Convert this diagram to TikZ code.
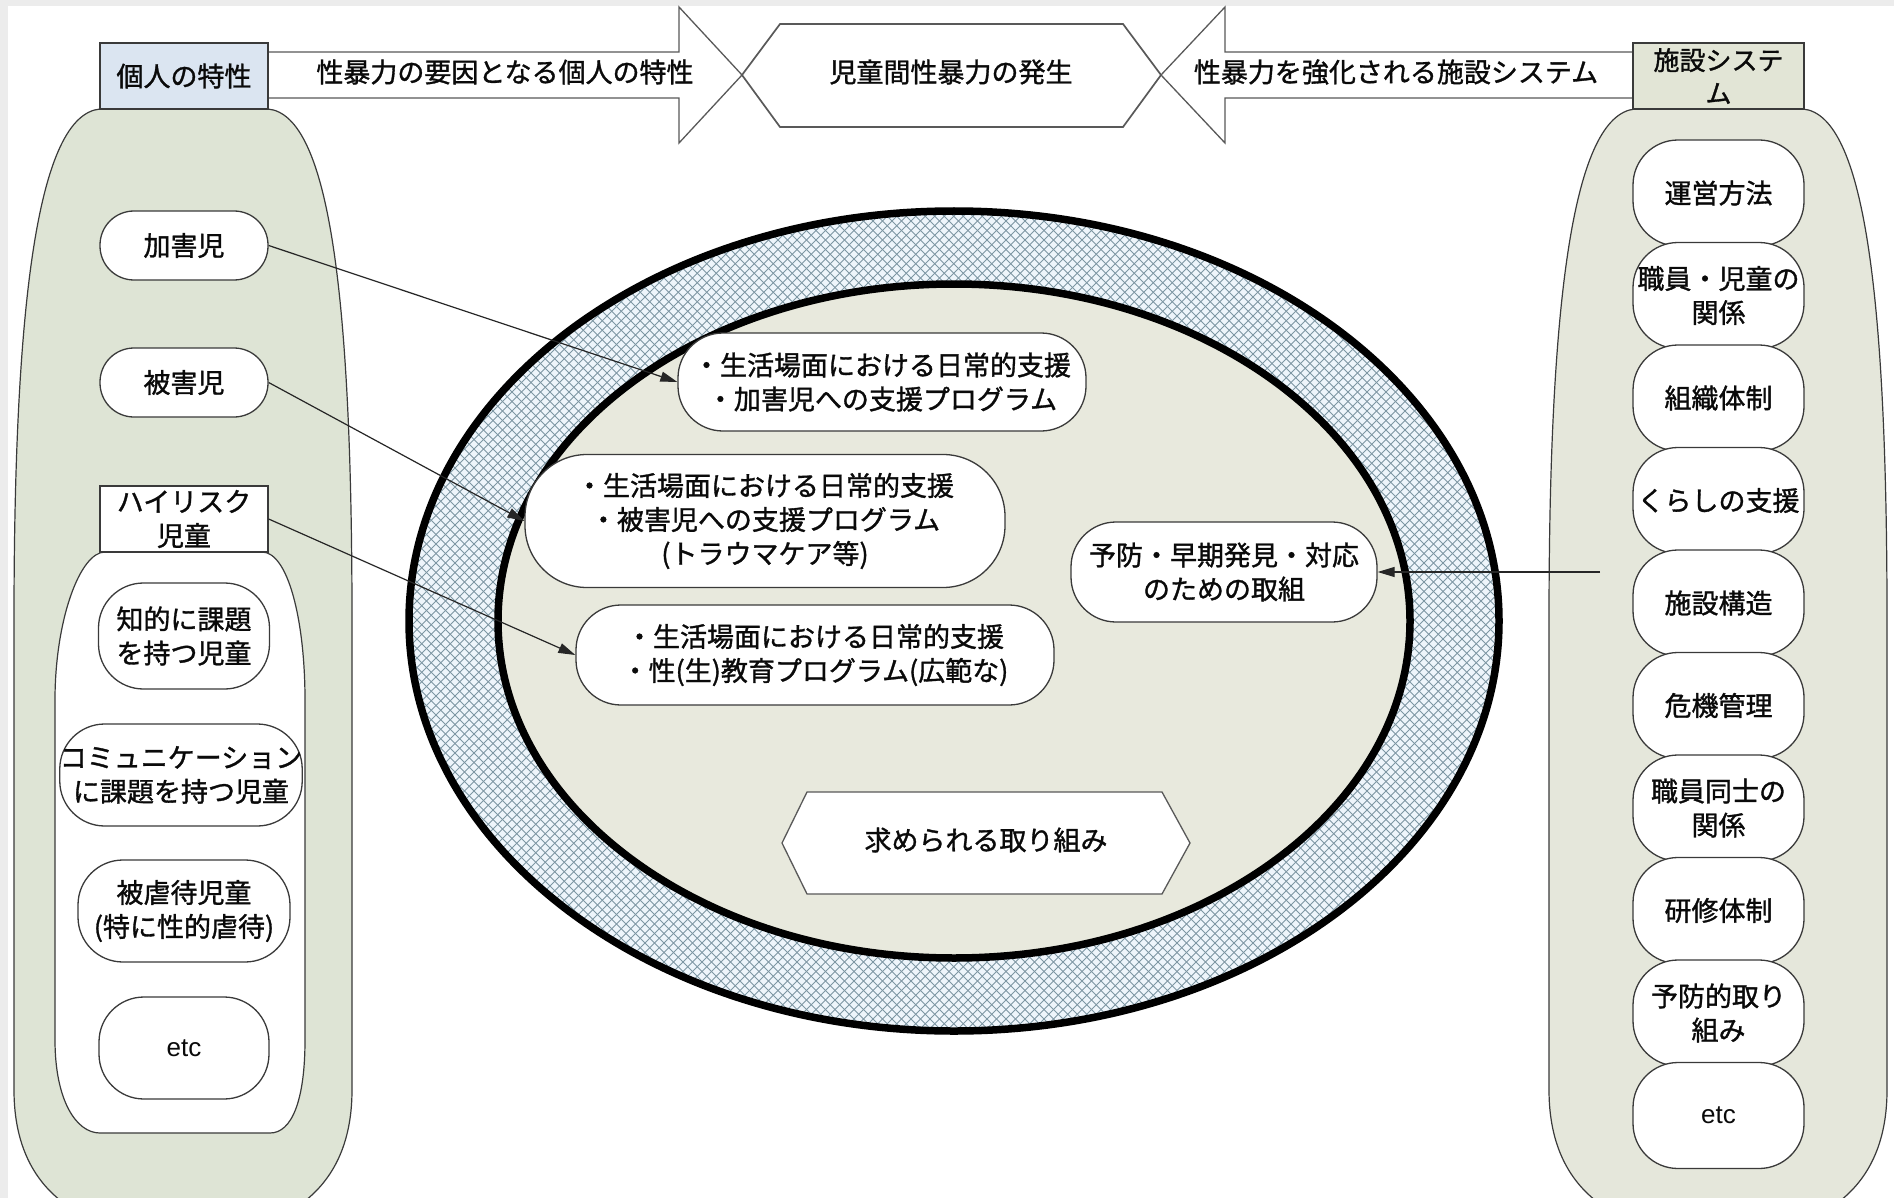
\documentclass[tikz,border=0pt]{standalone}
\usepackage{fontspec}
\setmainfont{Noto Sans CJK JP}[FakeBold=1.2]
\newfontfamily\latfont{Liberation Sans}
\usetikzlibrary{arrows.meta}
\definecolor{bggray}{HTML}{ECECEC}
\definecolor{bordercol}{HTML}{3A3A3A}
\definecolor{textcol}{HTML}{0A0A0A}
\definecolor{kojinfill}{HTML}{DBE5F1}
\definecolor{greenL}{HTML}{DEE4D5}
\definecolor{greenR}{HTML}{E5E7DB}
\definecolor{shisetsufill}{HTML}{E2E5D6}
\definecolor{innerfill}{HTML}{E8E9DD}
\definecolor{hatchbg}{HTML}{EEF5FB}
\definecolor{hatchline}{HTML}{7D96A3}
\newcommand\jpsize{\fontsize{27pt}{34pt}\selectfont}
\newcommand\etcsize{\latfont\fontsize{26pt}{30pt}\selectfont}
\begin{document}
\begin{tikzpicture}[x=1pt,y=-1pt,
 bd/.style={draw=bordercol, line width=1.3pt},
 pill/.style={bd, fill=white, rounded corners=#1, align=center, inner sep=0pt, font=\jpsize, text=textcol},
 pill/.default=45pt,
 sqbox/.style={bd, align=center, inner sep=0pt, font=\jpsize, text=textcol},
 wh/.style 2 args={minimum width=#1pt, minimum height=#2pt},
 conn/.style={draw=black!85, line width=1.2pt, -{Triangle[length=17pt,width=10pt]}},
 plain/.style={font=\jpsize, text=textcol, inner sep=0pt, align=center},
 bigarrow/.style={draw=black!65, line width=1.3pt, fill=white, line join=miter}]
\useasboundingbox (0,0) rectangle (1894,1198);
\clip (0,0) rectangle (1894,1198);
\fill[bggray] (0,0) rectangle (1894,1198);
\fill[white] (8,6) rectangle (1894,1198);

% ---- green side shapes
\def\sideshape{(100,109) -- (268,109) .. controls (330,115) and (352,300) .. (352,620) -- (352,1090) .. controls (352,1190) and (286,1235) .. (183,1235) .. controls (80,1235) and (14,1190) .. (14,1090) -- (14,620) .. controls (14,300) and (38,115) .. (100,109) -- cycle}
\filldraw[fill=greenL, draw=bordercol, line width=1.2pt] \sideshape;
\begin{scope}[shift={(1535,0)}]
\filldraw[fill=greenR, draw=bordercol, line width=1.2pt] \sideshape;
\end{scope}

% inner white shape (left)
\filldraw[fill=white, draw=bordercol, line width=1.2pt] (105,552) -- (262,552) .. controls (288,552) and (305,620) .. (305,700) -- (305,1040) .. controls (305,1100) and (292,1133) .. (270,1133) -- (100,1133) .. controls (76,1133) and (55,1100) .. (55,1040) -- (55,700) .. controls (55,620) and (80,552) .. (105,552) -- cycle;

% ---- top arrows and hexagon
\draw[bigarrow] (200,52) -- (679,52) -- (679,7) -- (742,75) -- (679,143) -- (679,98) -- (200,98) -- cycle;
\draw[bigarrow] (1700,52) -- (1225,52) -- (1225,7) -- (1161,75) -- (1225,143) -- (1225,98) -- (1700,98) -- cycle;
\draw[bigarrow, line width=1.7pt] (742,75) -- (780,24) -- (1123,24) -- (1161,75) -- (1123,127) -- (780,127) -- cycle;
\node[plain] (lblL) at (505,72) {性暴力の要因となる個人の特性};
\node[plain] (lblM) at (951,72) {児童間性暴力の発生};
\node[plain] (lblR) at (1396,72) {性暴力を強化される施設システム};

% header boxes
\node[sqbox, fill=kojinfill, wh={168}{66}] (kojin) at (184,76) {個人の特性};
\node[sqbox, fill=shisetsufill, wh={171}{66}, font=\fontsize{26pt}{33pt}\selectfont] (shisetsu) at (1718.5,76) {施設システ\\ム};

% ---- central ring
\begin{scope}
\clip (954,621) ellipse [x radius=545pt, y radius=410pt];
\fill[hatchbg] (400,200) rectangle (1510,1040);
\draw[hatchline, line width=0.8pt] \foreach \c in {-440,-430.5,...,1500} {(\c,200) -- ++(850,850)};
\draw[hatchline, line width=0.8pt] \foreach \c in {400,409.5,...,2340} {(\c,200) -- ++(-850,850)};
\end{scope}
\draw[line width=7.5pt] (954,621) ellipse [x radius=545pt, y radius=410pt];
\filldraw[fill=innerfill, line width=7.5pt] (954,621) ellipse [x radius=456pt, y radius=337pt];

% ---- central nodes
\node[pill, wh={408}{98}] (nA) at (882,382) {・生活場面における日常的支援\\・加害児への支援プログラム};
\node[pill=62pt, wh={480}{133}] (nB) at (765,521) {・生活場面における日常的支援\\・被害児への支援プログラム\\(トラウマケア等)};
\node[pill, wh={478}{100}] (nC) at (815,655) {・生活場面における日常的支援\\・性(生)教育プログラム(広範な)};
\node[pill, wh={306}{100}] (nD) at (1224,572) {予防・早期発見・対応\\のための取組};
\filldraw[fill=white, draw=black!65, line width=1.3pt] (782,843) -- (807,792) -- (1162,792) -- (1190,843) -- (1162,894) -- (807,894) -- cycle;
\node[plain] (req) at (986,840) {求められる取り組み};

% ---- left column
\node[pill=34pt, wh={168}{69}] (kagai) at (184,245.5) {加害児};
\node[pill=34pt, wh={168}{69}] (higai) at (184,382.5) {被害児};
\node[sqbox, fill=white, wh={168}{66}] (hr) at (184,519) {ハイリスク\\児童};
\node[pill, wh={171}{106}] (chiteki) at (184,636) {知的に課題\\を持つ児童};
\node[pill, wh={230}{102}] (comm) at (181,775) {コミュニケーション\\に課題を持つ児童};
\node[pill, wh={212}{102}] (gyaku) at (184,911) {被虐待児童\\(特に性的虐待)};
\node[pill, wh={170}{102}, font=\etcsize] (etcL) at (184,1048) {etc};

% ---- right column
\foreach \i/\yy/\t in {1/193/{運営方法},2/295.5/{職員・児童の\\関係},3/398/{組織体制},4/500.5/{くらしの支援},5/603/{施設構造},6/705.5/{危機管理},7/808/{職員同士の\\関係},8/910.5/{研修体制},9/1013/{予防的取り\\組み}}
 {\node[pill, wh={171}{106}] (r\i) at (1718.5,\yy) {\t};}
\node[pill, wh={171}{106}, font=\etcsize] (r10) at (1718.5,1115.5) {etc};

% ---- connectors
\draw[conn] (kagai.east) -- (nA.west);
\draw[conn] (higai.east) -- (nB.west);
\draw[conn] (hr.east) -- (nC.west);
\coordinate (dsrc) at (1600,572);
\draw[conn] (dsrc) -- (nD.east);
\end{tikzpicture}
\end{document}
